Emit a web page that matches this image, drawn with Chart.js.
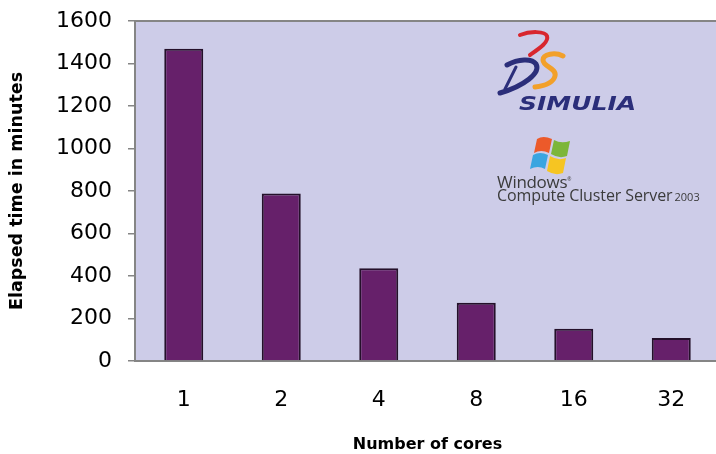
<!DOCTYPE html>
<html>
<head>
<meta charset="utf-8">
<script src="https://cdn.jsdelivr.net/npm/chart.js@4/dist/chart.umd.min.js"></script>
<style>
  html, body { margin: 0; padding: 0; background: #fff; overflow: hidden; }
  #wrap { position: relative; width: 716px; height: 454px; overflow: hidden; }
  #chart { position: absolute; left: 0; top: 0; }
  .logo { position: absolute; white-space: nowrap; }
  #simulia {
    left: 519px; top: 92px;
    font: italic bold 20px "DejaVu Sans", sans-serif;
    color: #2b2e7a;
    transform: scaleX(1.25); transform-origin: left top;
    line-height: 22px;
  }
  #windows {
    left: 497px; top: 171px;
    font: 17px "Open Sans", sans-serif;
    color: #3b3b3b;
    line-height: 17px;
    letter-spacing: -0.3px;
  }
  #ccs {
    left: 497px; top: 187px;
    font: 16px "Open Sans", sans-serif;
    color: #3b3b3b;
    line-height: 17px;
    letter-spacing: -0.1px;
  }
  #ccs small { font-size: 11px; letter-spacing: 0; margin-left: 2px; }
</style>
</head>
<body>
<div id="wrap">
  <canvas id="chart" width="720" height="454"></canvas>

  <svg class="logo" style="left:494px;top:28px" width="80" height="70" viewBox="0 0 80 70">
    <!-- red top swoosh -->
    <path d="M26 7 C36 3, 51 3, 53 8 C55 14, 46 20, 36 27" fill="none" stroke="#d8262e" stroke-width="4" stroke-linecap="round"/>
    <!-- dark blue D -->
    <path d="M13 37 C24 31, 38 30, 42 36 C47 45, 30 58, 6 65" fill="none" stroke="#2b2e7a" stroke-width="5" stroke-linecap="round"/>
    <path d="M22 39 L11 61" fill="none" stroke="#2b2e7a" stroke-width="3" stroke-linecap="round"/>
    <!-- orange S -->
    <path d="M69 28 C61 24, 49 26, 49 32 C49 39, 63 40, 61 48 C59 56, 49 58, 41 59" fill="none" stroke="#f2a02a" stroke-width="5" stroke-linecap="round"/>
  </svg>
  <div id="simulia" class="logo">SIMULIA</div>

  <svg class="logo" style="left:530px;top:134px" width="44" height="42" viewBox="0 0 44 42">
    <path d="M7 5 Q13 1 22 5 L19 19 Q11 15 4 19 Z" fill="#ec5a2a"/>
    <path d="M24 6 Q31 10 40 7 L37 22 Q29 25 21 20 Z" fill="#7cb63a"/>
    <path d="M3 21 Q10 17 18 21 L15 35 Q8 31 0 35 Z" fill="#3aa5e0"/>
    <path d="M20 22 Q28 27 36 24 L33 39 Q25 42 17 37 Z" fill="#f6c522"/>
  </svg>
  <div id="windows" class="logo">Windows<sup style="font-size:5px">&#174;</sup></div>
  <div id="ccs" class="logo">Compute Cluster Server<small>2003</small></div>
</div>

<script>
// elapsed wall time per core count
const cores = ["1", "2", "4", "8", "16", "32"];
const elapsedMinutes = [1470, 788, 436, 274, 152, 108];
const yMax = 1600;
const yStep = 200;

const axisGray = "#858585";

// lavender plot area with a grey top edge
const plotBackground = {
    id: "plotBackground",
    beforeDraw(chart){
        const {ctx, chartArea:{left, top, right, bottom}} = chart;
        ctx.save();
        ctx.fillStyle = "#cdcce8";
        ctx.fillRect(left, top, right - left, bottom - top);
        ctx.strokeStyle = axisGray;
        ctx.lineWidth = 2;
        ctx.beginPath();
        ctx.moveTo(left, top);
        ctx.lineTo(right, top);
        ctx.stroke();
        ctx.restore();
    }
};

new Chart(document.getElementById("chart"), {
    type:"bar",
    data:{
        labels:cores,
        datasets:[{
            data:elapsedMinutes,
            backgroundColor:"#66206a",
            borderColor:"#24102a",
            borderWidth:2,
            borderSkipped:"bottom",
            categoryPercentage:1,
            barPercentage:0.4
        }]
    },
    options:{
        responsive:false,
        devicePixelRatio:1,
        animation:false,
        layout:{ padding:{ top:21, right:0, bottom:0, left:0 } },
        plugins:{
            legend:{ display:false },
            tooltip:{ enabled:false }
        },
        scales:{
            x:{
                grid:{ display:false, drawTicks:false },
                border:{ display:true, color:axisGray, width:2 },
                ticks:{
                    color:"#000",
                    padding:26,
                    font:{ family:"DejaVu Sans", size:22 }
                },
                title:{
                    display:true,
                    text:"Number of cores",
                    color:"#000",
                    padding:{ top:0, bottom:0 },
                    font:{ family:"DejaVu Sans", size:16, weight:"bold" }
                },
                afterFit(scale){ scale.height = 93; }
            },
            y:{
                min:0,
                max:yMax,
                grid:{ drawOnChartArea:false, drawTicks:true, tickLength:7, color:axisGray, lineWidth:1.5 },
                border:{ display:true, color:axisGray, width:2 },
                ticks:{
                    stepSize:yStep,
                    color:"#000",
                    padding:16,
                    font:{ family:"DejaVu Sans", size:22 },
                    callback:value => String(value)
                },
                title:{
                    display:true,
                    text:"Elapsed time in minutes",
                    color:"#000",
                    padding:{ top:7, bottom:0 },
                    font:{ family:"DejaVu Sans", size:17.5, weight:"bold" }
                },
                afterFit(scale){
                    scale.width = 135;
                    // the top label may overhang the plot; keep the plot edge fixed
                    scale.paddingTop = 0;
                    scale.paddingBottom = 0;
                }
            }
        }
    },
    plugins:[plotBackground]
});
</script>
</body>
</html>
